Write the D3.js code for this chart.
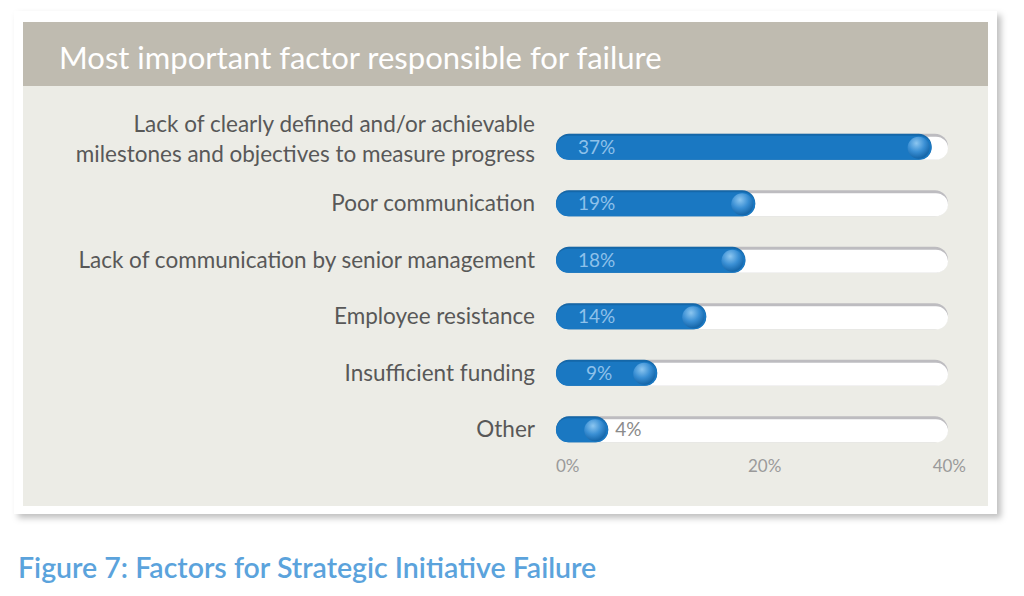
<!DOCTYPE html>
<meta charset="utf-8">
<style>
    body { margin: 0; background: #fff; }
    text { font-family: Lato, "Open Sans", sans-serif; }
</style>
<svg width="1024" height="596"></svg>
<script src="https://d3js.org/d3.v7.min.js"></script>
<script>
    // data
    var categories = [
        ["Lack of clearly defined and/or achievable", "milestones and objectives to measure progress"],
        ["Poor communication"],
        ["Lack of communication by senior management"],
        ["Employee resistance"],
        ["Insufficient funding"],
        ["Other"]
    ];
    var values = [37, 19, 18, 14, 9, 4];
    var ticks = [0, 20, 40];

    var svg = d3.select("svg");

    var defs = svg.append("defs");
    var sh = defs.append("filter").attr("id", "shadow").attr("x", "-5%").attr("y", "-5%").attr("width", "110%").attr("height", "115%");
    sh.append("feDropShadow").attr("dx", 4).attr("dy", 4).attr("stdDeviation", 3).attr("flood-color", "#000").attr("flood-opacity", 0.25);

    var knobGrad = defs.append("radialGradient").attr("id", "knob").attr("cx", "40%").attr("cy", "30%").attr("r", "70%");
    knobGrad.append("stop").attr("offset", "0%").attr("stop-color", "#8cc6f0");
    knobGrad.append("stop").attr("offset", "55%").attr("stop-color", "#3a8fd4");
    knobGrad.append("stop").attr("offset", "100%").attr("stop-color", "#1565a8");

    // card
    svg.append("rect").attr("x", 14).attr("y", 11).attr("width", 983).attr("height", 503)
        .attr("fill", "#fff").attr("filter", "url(#shadow)");
    svg.append("rect").attr("x", 23).attr("y", 22).attr("width", 965).attr("height", 484).attr("fill", "#ecece6");
    svg.append("rect").attr("x", 23).attr("y", 22).attr("width", 965).attr("height", 64).attr("fill", "#bfbbb0");

    svg.append("text").attr("x", 59).attr("y", 69)
        .attr("fill", "#fff").attr("font-size", 31)
        .text("Most important factor responsible for failure");

    var x = d3.scaleLinear().domain([0, 40]).range([556, 948]);
    var y = d3.scaleBand().domain(d3.range(values.length)).range([117, 459]).paddingInner(0.55).paddingOuter(0.3);

    var h = 26, r = h / 2;

    var row = svg.selectAll(".row").data(values).enter().append("g")
        .attr("class", "row")
        .attr("transform", function (d, i) { return "translate(0," + (y(i) + y.bandwidth() / 2) + ")"; });

    // track
    row.append("rect").attr("x", x(0)).attr("y", -r).attr("width", x(40) - x(0)).attr("height", h)
        .attr("rx", r).attr("fill", "#bdbcc0");
    row.append("rect").attr("x", x(0)).attr("y", -r + 3).attr("width", x(40) - x(0)).attr("height", h - 3)
        .attr("rx", r - 1).attr("fill", "#fff");

    // bar
    function barEnd(d) { return x(d) + 13; }
    row.append("rect").attr("x", x(0)).attr("y", -r).attr("width", function (d) { return barEnd(d) - x(0); })
        .attr("height", h).attr("rx", r).attr("fill", "#1567a8");
    row.append("rect").attr("x", x(0)).attr("y", -r + 2).attr("width", function (d) { return barEnd(d) - x(0); })
        .attr("height", h - 2).attr("rx", r - 1).attr("fill", "#1a78c2");

    row.append("circle").attr("cx", function (d) { return x(d); }).attr("cy", 1).attr("r", 11)
        .attr("fill", "url(#knob)");

    // value labels
    row.append("text")
        .attr("x", function (d) { return d >= 14 ? 578 : (d >= 9 ? 586 : x(d) + 20); })
        .attr("y", 7)
        .attr("font-size", 19)
        .attr("fill", function (d) { return d >= 9 ? "#8ec1ea" : "#8a8a8a"; })
        .text(function (d) { return d + "%"; });

    // category labels
    row.append("text")
        .attr("x", 535).attr("text-anchor", "end")
        .attr("font-size", 22.5).attr("fill", "#585858")
        .selectAll("tspan")
        .data(function (d, i) { return categories[i].map(function (t, k) { return { t: t, k: k, n: categories[i].length }; }); })
        .enter().append("tspan")
        .attr("x", 535)
        .attr("y", function (o) { return o.n > 1 ? -15 + o.k * 30 : 8; })
        .text(function (o) { return o.t; });

    // axis tick labels
    svg.selectAll(".tick").data(ticks).enter().append("text")
        .attr("class", "tick")
        .attr("x", function (d, i) { return i === 0 ? x(d) : (i === ticks.length - 1 ? x(d) + 18 : x(d) - 4); })
        .attr("text-anchor", function (d, i) { return i === 0 ? "start" : (i === ticks.length - 1 ? "end" : "start"); })
        .attr("y", 472)
        .attr("font-size", 17)
        .attr("fill", "#9a9a9a")
        .text(function (d) { return d + "%"; });

    svg.append("text").attr("x", 18).attr("y", 578)
        .attr("fill", "#5ba3dc").attr("font-size", 28.5).attr("font-weight", 600)
        .text("Figure 7: Factors for Strategic Initiative Failure");
</script>
